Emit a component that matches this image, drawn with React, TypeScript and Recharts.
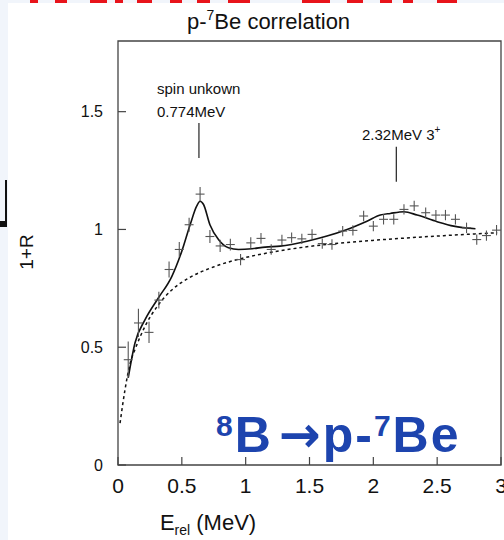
import React from "react";
import {
  ComposedChart,
  Line,
  Scatter,
  ErrorBar,
  XAxis,
  YAxis,
  ReferenceArea,
  ReferenceLine,
} from "recharts";

// measured points (E_rel in MeV, 1+R)
const pointE = [
  0.08, 0.16, 0.243, 0.32, 0.4, 0.48, 0.557, 0.643, 0.72, 0.8, 0.88, 0.96, 1.04, 1.12,
  1.2, 1.284, 1.36, 1.44, 1.52, 1.6, 1.676, 1.76, 1.84, 1.924, 2.0, 2.08, 2.16, 2.24,
  2.32, 2.41, 2.49, 2.565, 2.643, 2.73, 2.81, 2.886, 2.965,
];
const pointR = [
  0.447, 0.603, 0.563, 0.7, 0.83, 0.915, 1.02, 1.15, 0.97, 0.93, 0.936, 0.872, 0.943, 0.962,
  0.915, 0.955, 0.965, 0.96, 0.979, 0.94, 0.936, 0.993, 0.996, 1.057, 1.014, 1.043, 1.043, 1.085,
  1.1, 1.071, 1.061, 1.061, 1.043, 1.007, 0.957, 0.974, 0.997,
];
const pointErr = [
  0.077, 0.06, 0.045, 0.036, 0.034, 0.032, 0.03, 0.03, 0.028, 0.026, 0.025, 0.024, 0.024, 0.023,
  0.022, 0.022, 0.022, 0.022, 0.022, 0.022, 0.022, 0.022, 0.022, 0.022, 0.022, 0.022, 0.022, 0.022,
  0.022, 0.022, 0.022, 0.022, 0.022, 0.022, 0.022, 0.022, 0.022,
];
const binHalf = 0.035;

// fit with resonances (solid)
const fitE = [
  0.08, 0.133, 0.212, 0.316, 0.421, 0.5, 0.565, 0.617, 0.643, 0.67, 0.72, 0.787, 0.865, 0.944,
  1.05, 1.153, 1.27, 1.48, 1.637, 1.794, 1.95, 2.055, 2.133, 2.24, 2.343, 2.5, 2.63, 2.8,
];
const fitR = [
  0.37, 0.518, 0.617, 0.709, 0.8, 0.908, 1.02, 1.1, 1.12, 1.106, 1.02, 0.957, 0.922, 0.915,
  0.918, 0.925, 0.929, 0.95, 0.972, 1.0, 1.035, 1.061, 1.068, 1.075, 1.061, 1.033, 1.014, 1.003,
];

// background (dashed)
const bgE = [0.016, 0.055, 0.094, 0.133, 0.212, 0.316, 0.421, 0.552, 0.76, 0.97, 1.22, 1.61, 2.03, 2.5, 2.97];
const bgR = [0.178, 0.32, 0.43, 0.49, 0.589, 0.68, 0.743, 0.793, 0.843, 0.877, 0.905, 0.935, 0.955, 0.972, 0.986];

const xTicks = [0, 0.5, 1, 1.5, 2, 2.5, 3];
const yTicks = [0, 0.5, 1, 1.5];

const points = pointE.map((e, i) => ({ x: e, y: pointR[i], ey: pointErr[i], ex: binHalf }));
const fit = fitE.map((e, i) => ({ x: e, y: fitR[i] }));
const bg = bgE.map((e, i) => ({ x: e, y: bgR[i] }));

const FRAME = "#444";
const FONT = "'Liberation Sans', Arial, sans-serif";

const YTick = ({ x, y, payload }: any) => (
  <g>
    <line x1={x} y1={y} x2={x + 8} y2={y} stroke={FRAME} strokeWidth={1.2} />
    <text x={x - 15} y={y} dy="0.36em" textAnchor="end" fontSize={16} fill="#111" fontFamily={FONT}>
      {payload.value}
    </text>
  </g>
);

const XTick = ({ x, y, payload }: any) => (
  <g>
    <line x1={x} y1={y} x2={x} y2={y - 8} stroke={FRAME} strokeWidth={1.2} />
    <text x={x} y={y + 28} textAnchor="middle" fontSize={21} fill="#111" fontFamily={FONT}>
      {payload.value}
    </text>
  </g>
);

const redBits = [
  [30, 8], [55, 12], [90, 17], [115, 8], [137, 15], [170, 12], [197, 13], [228, 22],
  [302, 28], [347, 16], [380, 12], [403, 10], [437, 20],
];

export default function App() {
  return (
    <div
      style={{
        position: "absolute",
        left: 0,
        top: 0,
        width: 504,
        height: 540,
        overflow: "hidden",
        background: "#f1f5fb",
        fontFamily: FONT,
      }}
    >
      <div style={{ position: "absolute", left: 8, top: 3, width: 496, height: 537, background: "#fff" }} />
      <div style={{ position: "absolute", left: 0, top: 0 }}>
        <ComposedChart width={504} height={540} margin={{ top: 41, right: 3, bottom: 35, left: 58 }}>
          <XAxis
            dataKey="x"
            type="number"
            domain={[0, 3]}
            ticks={xTicks}
            allowDataOverflow
            axisLine={false}
            tickLine={false}
            tickSize={0}
            tickMargin={0}
            height={40}
            tick={<XTick />}
            interval={0}
          />
          <YAxis
            type="number"
            domain={[0, 1.8]}
            ticks={yTicks}
            allowDataOverflow
            axisLine={false}
            tickLine={false}
            tickSize={0}
            tickMargin={0}
            width={60}
            tick={<YTick />}
            interval={0}
          />
          <ReferenceArea x1={0} x2={3} y1={0} y2={1.8} fill="none" stroke={FRAME} strokeWidth={1.3} />
          <ReferenceLine segment={[{ x: 0.634, y: 1.303 }, { x: 0.634, y: 1.452 }]} stroke="#222" strokeWidth={1.2} />
          <ReferenceLine segment={[{ x: 2.18, y: 1.202 }, { x: 2.18, y: 1.351 }]} stroke="#222" strokeWidth={1.2} />
          <Line
            data={bg}
            dataKey="y"
            type="monotone"
            stroke="#111"
            strokeWidth={1.5}
            strokeDasharray="3 3"
            dot={false}
            isAnimationActive={false}
          />
          <Line
            data={fit}
            dataKey="y"
            type="monotone"
            stroke="#111"
            strokeWidth={1.6}
            dot={false}
            isAnimationActive={false}
          />
          <Scatter data={points} dataKey="y" shape={() => <g />} isAnimationActive={false}>
            <ErrorBar dataKey="ey" direction="y" width={0} stroke="#555" strokeWidth={1.1} />
            <ErrorBar dataKey="ex" direction="x" width={0} stroke="#555" strokeWidth={1.1} />
          </Scatter>
        </ComposedChart>
      </div>
      <svg width={504} height={540} style={{ position: "absolute", left: 0, top: 0, pointerEvents: "none" }}>
        {redBits.map(([x, w], i) => (
          <rect key={i} x={x} y={0} width={w} height={3} fill="#e8141b" />
        ))}
        <rect x={5} y={180} width={2} height={47} fill="#111" />
        <rect x={0} y={221} width={7} height={6} fill="#111" />
        <text x={187} y={29} fontSize={22} fill="#111" fontFamily={FONT}>
          p-
          <tspan fontSize={14} dy={-9}>7</tspan>
          <tspan fontSize={22} dy={9}>Be correlation</tspan>
        </text>
        <text
          x={33}
          y={252}
          transform="rotate(-90 33 252)"
          textAnchor="middle"
          fontSize={19}
          fill="#111"
          fontFamily={FONT}
        >
          1+R
        </text>
        <text x={157} y={94} fontSize={15} fill="#111" fontFamily={FONT}>spin unkown</text>
        <text x={157} y={117} fontSize={15} fill="#111" fontFamily={FONT}>0.774MeV</text>
        <text x={362} y={140} fontSize={15} fill="#111" fontFamily={FONT}>
          2.32MeV 3
          <tspan fontSize={10} dy={-7}>+</tspan>
        </text>
        <text x={208} y={530} textAnchor="middle" fontSize={22} fill="#111" fontFamily={FONT}>
          E
          <tspan fontSize={14} dy={5}>rel</tspan>
          <tspan fontSize={22} dy={-5}> (MeV)</tspan>
        </text>
        <text x={216} y={452} fontSize={50} fontWeight="bold" fill="#1d44ae" fontFamily={FONT} letterSpacing={2}>
          <tspan fontSize={30} dy={-16}>8</tspan>
          <tspan fontSize={50} dy={16}>B</tspan>
          <tspan fontSize={50} dx={6} fontFamily="'DejaVu Sans'">→</tspan>
          <tspan fontSize={50}>p-</tspan>
          <tspan fontSize={30} dy={-16}>7</tspan>
          <tspan fontSize={50} dy={16}>Be</tspan>
        </text>
      </svg>
    </div>
  );
}
